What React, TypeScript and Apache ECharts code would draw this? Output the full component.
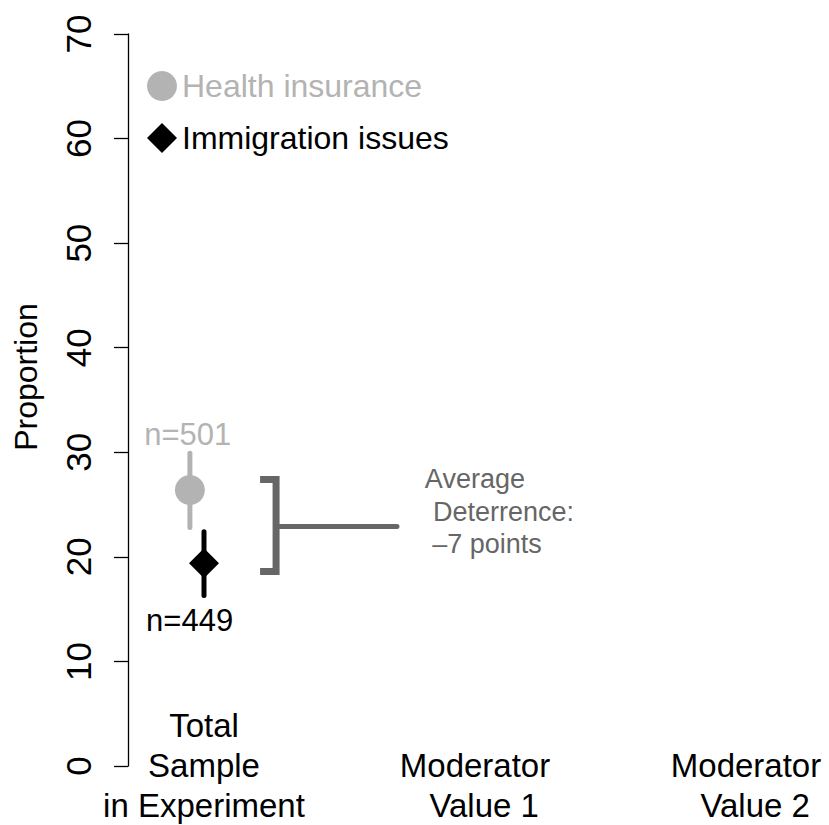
import React, { useEffect, useRef } from "react";
import * as echarts from "echarts";

// ---- data ----
const categories = ["Total\nSample\nin Experiment", "Moderator\n  Value 1", "Moderator\n  Value 2"];
const categoryPos = [0, 1, 2];
const groupNames = ["Health insurance", "Immigration issues"];
const groupColors = ["#b3b3b3", "#000000"];
const groupSymbols = ["circle", "diamond"];
const groupX = [-0.052, 0];
const means = [26.4, 19.4];
const lowerCI = [22.8, 16.3];
const upperCI = [29.9, 22.4];
const sampleSizes = [501, 449];
const sampleLabelX = [-0.06, -0.053];
const sampleLabelY = [31.7, 13.9];
const bracketX = [0.207, 0.266, 0.712];
const bracketRange = [18.6, 27.4];
const bracketMid = 22.9;
const deterrence = -7;
const annotX = [0.815, 0.845, 0.842];
const annotY = [27.4, 24.3, 21.2];
const yTicks = { min: 0, max: 70, step: 10 };

const FONT = "'Liberation Sans', Arial, Helvetica, sans-serif";
const BRACKET_COLOR = "#666666";

export default function App() {
  const ref = useRef<HTMLDivElement>(null);
  useEffect(() => {
    if (!ref.current) return;
    const chart = echarts.init(ref.current, undefined, { renderer: "svg" });
    const xMin = -0.2804;
    const xMax = 2.3063;

    const errorSeries = groupNames.map((g, i) => ({
      type: "line",
      name: g + " CI",
      data: [
        [groupX[i], lowerCI[i]],
        [groupX[i], upperCI[i]],
      ],
      symbol: "none",
      lineStyle: { color: groupColors[i], width: 5, cap: "round" },
      z: 2,
      silent: true,
    }));

    const pointSeries = groupNames.map((g, i) => ({
      type: "scatter",
      name: g,
      data: [[groupX[i], means[i]]],
      symbol: groupSymbols[i],
      symbolSize: 30,
      itemStyle: { color: groupColors[i], opacity: 1 },
      z: 3,
    }));

    const bracketSeries = [
      {
        type: "line",
        name: "bracket",
        data: [
          [bracketX[0], bracketRange[1]],
          [bracketX[1], bracketRange[1]],
          [bracketX[1], bracketRange[0]],
          [bracketX[0], bracketRange[0]],
        ],
        symbol: "none",
        lineStyle: { color: BRACKET_COLOR, width: 7, join: "miter" },
        silent: true,
      },
      {
        type: "line",
        name: "bracketMid",
        data: [
          [bracketX[1], bracketMid],
          [bracketX[2], bracketMid],
        ],
        symbol: "none",
        lineStyle: { color: BRACKET_COLOR, width: 5, cap: "round" },
        silent: true,
      },
    ];

    const annotTexts = ["Average", "Deterrence:", "\u2013" + Math.abs(deterrence) + " points"];
    const annotData: any[] = annotTexts.map((t, i) => ({
      value: [annotX[i], annotY[i]],
      label: {
        show: true,
        position: "inside",
        formatter: t,
        align: "left",
        verticalAlign: "middle",
        color: BRACKET_COLOR,
        opacity: 1,
        fontSize: 27,
        fontFamily: FONT,
      },
    }));
    sampleSizes.forEach((n, i) => {
      annotData.push({
        value: [sampleLabelX[i], sampleLabelY[i]],
        label: {
          show: true,
          position: "inside",
          formatter: "n=" + n,
          align: "center",
          verticalAlign: "middle",
          color: groupColors[i],
          opacity: 1,
          fontSize: 31,
          fontFamily: FONT,
        },
      });
    });

    const option: any = {
      animation: false,
      textStyle: { fontFamily: FONT },
      grid: { left: 128, right: 0, top: 34, bottom: 58, containLabel: false },
      legend: {
        show: true,
        orient: "vertical",
        left: 147,
        top: 70,
        itemWidth: 30,
        itemHeight: 30,
        itemGap: 20,
        selectedMode: false,
        padding: 0,
        data: groupNames.map((g, i) => ({
          name: g,
          textStyle: { color: groupColors[i], fontSize: 32, fontFamily: FONT },
        })),
      },
      xAxis: {
        type: "value",
        min: xMin,
        max: xMax,
        axisLine: { show: false, onZero: false },
        axisTick: { show: false },
        splitLine: { show: false },
        axisLabel: {
          customValues: categoryPos,
          formatter: (v: number) => categories[Math.round(v)] ?? "",
          fontSize: 33,
          lineHeight: 40,
          color: "#000",
          verticalAlign: "bottom",
          margin: 59,
          fontFamily: FONT,
        },
      },
      yAxis: {
        type: "value",
        min: yTicks.min,
        max: yTicks.max,
        interval: yTicks.step,
        axisLine: { show: true, onZero: false, lineStyle: { color: "#000", width: 1.3 } },
        axisTick: { show: true, length: 14, lineStyle: { color: "#000", width: 1.3 } },
        splitLine: { show: false },
        axisLabel: {
          rotate: 90,
          fontSize: 35,
          margin: 32,
          color: "#000",
          fontFamily: FONT,
        },
      },
      graphic: [
        {
          type: "text",
          x: 26,
          y: 377,
          rotation: Math.PI / 2,
          style: {
            text: "Proportion",
            fontSize: 32,
            fill: "#000",
            textAlign: "center",
            textVerticalAlign: "middle",
            fontFamily: FONT,
          },
        },
      ],
      series: [
        ...errorSeries,
        ...bracketSeries,
        ...pointSeries,
        {
          type: "scatter",
          name: "annotations",
          symbolSize: 0,
          itemStyle: { opacity: 1 },
          data: annotData,
          silent: true,
        },
      ],
    };
    chart.setOption(option);
    return () => chart.dispose();
  }, []);
  return (
    <div
      ref={ref}
      style={{ position: "fixed", left: 0, top: 0, width: 829, height: 825, background: "#fff" }}
    />
  );
}
